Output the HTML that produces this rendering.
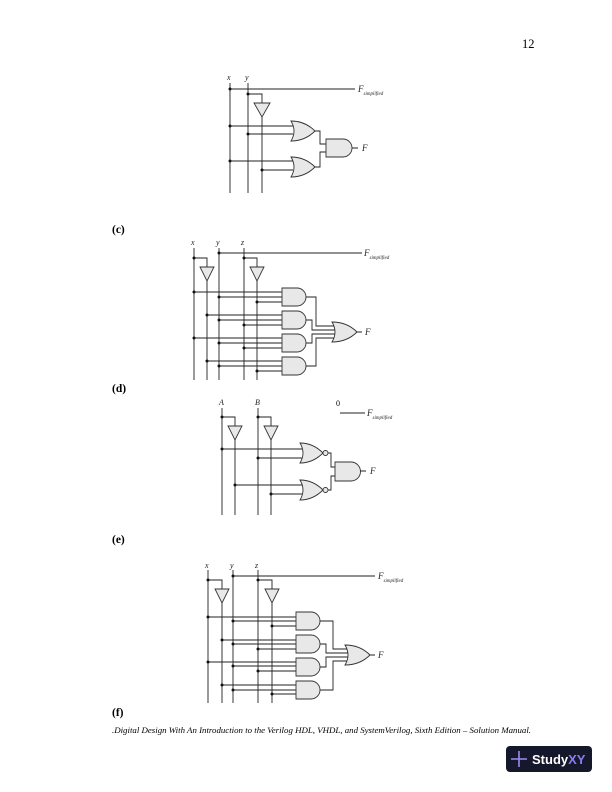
<!DOCTYPE html>
<html><head><meta charset="utf-8"><style>
body{margin:0;background:#fff}
svg{display:block}
.w{stroke:#222;stroke-width:0.9;fill:none}
.g{fill:#e8e8e8;stroke:#333;stroke-width:0.9}
.l{font-family:"Liberation Serif",serif;font-style:italic;font-size:8px;fill:#222}
.F{font-family:"Liberation Serif",serif;font-style:italic;font-size:9px;fill:#222}
.s{font-size:5px}
.h{font-family:"Liberation Serif",serif;font-weight:bold;font-size:11.5px;fill:#000}
</style></head><body>
<svg width="612" height="792" viewBox="0 0 612 792" xmlns="http://www.w3.org/2000/svg">
<text x="522" y="48" font-family="Liberation Serif,serif" font-size="12.5">12</text>

<!-- Diagram 1 -->
<text class="l" x="227" y="80">x</text><text class="l" x="245" y="80">y</text>
<path class="w" d="M230 83V193M248 83V193M262 117V193M230 89H355M248 94H262V103M230 126H293M248 134H293M230 161H293M262 170H293M315 131H320V144H326M315 167H320V152H326M352 148H358"/>
<polygon class="g" points="254,103 270,103 262,117"/>
<path class="g" d="M291 121Q305 121 315 131Q305 141 291 141Q297 131 291 121Z"/>
<path class="g" d="M291 157Q305 157 315 167Q305 177 291 177Q297 167 291 157Z"/>
<path class="g" d="M326 139H343A9 9 0 0 1 343 157H326Z"/>
<g fill="#111"><circle cx="230" cy="89" r="1.5"/><circle cx="248" cy="94" r="1.5"/><circle cx="230" cy="126" r="1.5"/><circle cx="248" cy="134" r="1.5"/><circle cx="230" cy="161" r="1.5"/><circle cx="262" cy="170" r="1.5"/></g>
<text class="F" x="358" y="92">F<tspan class="s" dy="3">simplified</tspan></text>
<text class="F" x="362" y="151">F</text>

<text class="h" x="112" y="233">(c)</text>
<!-- Diagram c -->
<text class="l" x="191" y="245">x</text><text class="l" x="216" y="245">y</text><text class="l" x="241" y="245">z</text>
<path class="w" d="M194 248V380M207 281V380M219 248V380M244 248V380M257 281V380M219 253H362M194 258H207V267M244 258H257V267
M194 292H284M219 297H284M257 302H284M207 315H284M219 320H284M244 325H284M194 338H284M219 343H284M244 348H284M207 361H284M219 366H284M257 371H284
M306 297H316V326H334M306 320H312V330H335M306 343H312V334H335M306 366H316V338H334M357 332H362"/>
<polygon class="g" points="200,267 214,267 207,281"/><polygon class="g" points="250,267 264,267 257,281"/>
<path class="g" d="M282 288H297A9 9 0 0 1 297 306H282Z"/>
<path class="g" d="M282 311H297A9 9 0 0 1 297 329H282Z"/>
<path class="g" d="M282 334H297A9 9 0 0 1 297 352H282Z"/>
<path class="g" d="M282 357H297A9 9 0 0 1 297 375H282Z"/>
<path class="g" d="M332 322Q347 322 357 332Q347 342 332 342Q338 332 332 322Z"/>
<g fill="#111"><circle cx="219" cy="253" r="1.5"/><circle cx="194" cy="258" r="1.5"/><circle cx="244" cy="258" r="1.5"/>
<circle cx="194" cy="292" r="1.5"/><circle cx="219" cy="297" r="1.5"/><circle cx="257" cy="302" r="1.5"/>
<circle cx="207" cy="315" r="1.5"/><circle cx="219" cy="320" r="1.5"/><circle cx="244" cy="325" r="1.5"/>
<circle cx="194" cy="338" r="1.5"/><circle cx="219" cy="343" r="1.5"/><circle cx="244" cy="348" r="1.5"/>
<circle cx="207" cy="361" r="1.5"/><circle cx="219" cy="366" r="1.5"/><circle cx="257" cy="371" r="1.5"/></g>
<text class="F" x="364" y="256">F<tspan class="s" dy="3">simplified</tspan></text>
<text class="F" x="365" y="335">F</text>

<text class="h" x="112" y="392">(d)</text>
<!-- Diagram d -->
<text class="l" x="219" y="405">A</text><text class="l" x="255" y="405">B</text>
<text x="336" y="406" font-family="Liberation Serif,serif" font-size="8">0</text>
<path class="w" d="M222 408V515M235 440V515M258 408V515M271 440V515M340 413H365M222 417H235V426M258 417H271V426
M222 449H302M258 458H302M235 485H302M271 494H302M328 453H331V467H335M328 490H331V476H335M360 471H366"/>
<polygon class="g" points="228,426 242,426 235,440"/><polygon class="g" points="264,426 278,426 271,440"/>
<path class="g" d="M300 443Q313 443 323 453Q313 463 300 463Q306 453 300 443Z"/><circle class="g" cx="325.5" cy="453" r="2.5"/>
<path class="g" d="M300 480Q313 480 323 490Q313 500 300 500Q306 490 300 480Z"/><circle class="g" cx="325.5" cy="490" r="2.5"/>
<path class="g" d="M335 462H351A9.5 9.5 0 0 1 351 481H335Z"/>
<g fill="#111"><circle cx="222" cy="417" r="1.5"/><circle cx="258" cy="417" r="1.5"/><circle cx="222" cy="449" r="1.5"/><circle cx="258" cy="458" r="1.5"/><circle cx="235" cy="485" r="1.5"/><circle cx="271" cy="494" r="1.5"/></g>
<text class="F" x="367" y="416">F<tspan class="s" dy="3">simplified</tspan></text>
<text class="F" x="370" y="474">F</text>

<text class="h" x="112" y="543">(e)</text>
<!-- Diagram f -->
<text class="l" x="205" y="568">x</text><text class="l" x="230" y="568">y</text><text class="l" x="255" y="568">z</text>
<path class="w" d="M208 570V703M222 603V703M233 570V703M258 570V703M272 603V703M233 576H375M208 580H222V589M258 580H272V589
M208 617H298M233 621H298M272 626H298M222 640H298M233 644H298M258 649H298M208 662H298M233 666H298M258 671H298M222 685H298M233 690H298M272 694H298
M320 621H333V649H347M320 644H326V653H348M320 667H326V657H348M320 690H333V661H347M370 655H375"/>
<polygon class="g" points="215,589 229,589 222,603"/><polygon class="g" points="265,589 279,589 272,603"/>
<path class="g" d="M296 612H311A9 9 0 0 1 311 630H296Z"/>
<path class="g" d="M296 635H311A9 9 0 0 1 311 653H296Z"/>
<path class="g" d="M296 658H311A9 9 0 0 1 311 676H296Z"/>
<path class="g" d="M296 681H311A9 9 0 0 1 311 699H296Z"/>
<path class="g" d="M345 645Q360 645 370 655Q360 665 345 665Q351 655 345 645Z"/>
<g fill="#111"><circle cx="233" cy="576" r="1.5"/><circle cx="208" cy="580" r="1.5"/><circle cx="258" cy="580" r="1.5"/>
<circle cx="208" cy="617" r="1.5"/><circle cx="233" cy="621" r="1.5"/><circle cx="272" cy="626" r="1.5"/>
<circle cx="222" cy="640" r="1.5"/><circle cx="233" cy="644" r="1.5"/><circle cx="258" cy="649" r="1.5"/>
<circle cx="208" cy="662" r="1.5"/><circle cx="233" cy="666" r="1.5"/><circle cx="258" cy="671" r="1.5"/>
<circle cx="222" cy="685" r="1.5"/><circle cx="233" cy="690" r="1.5"/><circle cx="272" cy="694" r="1.5"/></g>
<text class="F" x="378" y="579">F<tspan class="s" dy="3">simplified</tspan></text>
<text class="F" x="378" y="658">F</text>

<text class="h" x="112" y="716">(f)</text>
<text x="112" y="733" font-family="Liberation Serif,serif" font-style="italic" font-size="8.8" textLength="419" lengthAdjust="spacingAndGlyphs">.Digital Design With An Introduction to the Verilog HDL, VHDL, and SystemVerilog, Sixth Edition – Solution Manual.</text>

<rect x="506" y="746" width="86" height="26" rx="4" fill="#15172a"/>
<path d="M511 759H527M519 751V767" stroke="#9b8cf0" stroke-width="1.6"/>
<text x="532" y="764" font-family="Liberation Sans,sans-serif" font-weight="bold" font-size="13" fill="#fff">Study<tspan fill="#8a7cf5">XY</tspan></text>
</svg>
</body></html>
